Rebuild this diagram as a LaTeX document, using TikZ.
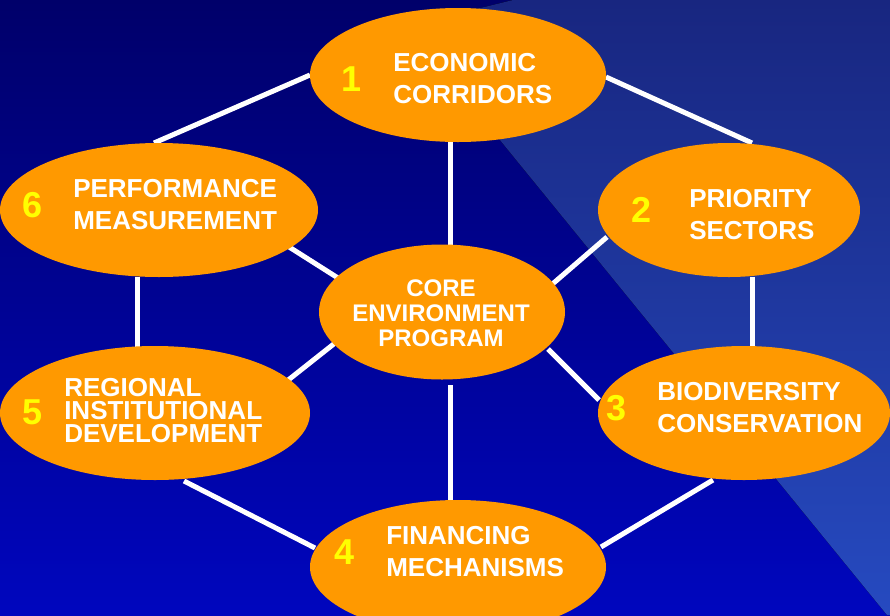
\documentclass[tikz,border=0pt]{standalone}
\usepackage{fontspec}
\setmainfont{Liberation Sans}
\usetikzlibrary{shapes.geometric,calc}
\definecolor{bgtop}{RGB}{0,0,106}
\definecolor{bgbot}{RGB}{0,6,190}
\definecolor{ltop}{RGB}{24,38,128}
\definecolor{lbot}{RGB}{38,74,192}
\definecolor{orng}{RGB}{255,153,0}
\definecolor{ylw}{RGB}{255,255,0}
\pgfdeclarelayer{back}
\pgfdeclarelayer{lines}
\pgfsetlayers{back,lines,main}
\begin{document}
\begin{tikzpicture}[x=0.75pt,y=-0.75pt,
  ell/.style n args={2}{ellipse,fill=orng,inner sep=0pt,outer sep=0pt,minimum width=#1,minimum height=#2},
  link/.style={draw=white,line width=3.75pt},
  num/.style={text=ylw,font=\fontsize{27}{27}\selectfont\bfseries,inner sep=0pt},
  lbl/.style={text=white,font=\fontsize{19.5}{24}\selectfont\bfseries,align=left,inner sep=0pt,anchor=west}]
\useasboundingbox (0,0) rectangle (890,615);
\clip (0,0) rectangle (890,615);
% ellipses
\node[ell={222pt}{100.5pt}] (e1) at (458,75) {};
\node[ell={196.5pt}{100.5pt}] (e2) at (729,210) {};
\node[ell={238.5pt}{100.5pt}] (e6) at (159,210) {};
\node[ell={184.5pt}{101.25pt}] (ec) at (442,312) {};
\node[ell={232.5pt}{100.5pt}] (e5) at (155,413) {};
\node[ell={219pt}{100.5pt}] (e3) at (744,413) {};
\node[ell={222pt}{100.5pt}] (e4) at (458,567) {};
% labels
\node[lbl] (t1) at (393,79) {ECONOMIC\\CORRIDORS};
\node[lbl] (t2) at (689,214.5) {PRIORITY\\SECTORS};
\node[lbl] (t6) at (73,205) {PERFORMANCE\\MEASUREMENT};
\node[lbl] (t3) at (657,408) {BIODIVERSITY\\CONSERVATION};
\node[lbl,font=\fontsize{19.5}{17.25}\selectfont\bfseries] (t5) at (64,411) {REGIONAL\\INSTITUTIONAL\\DEVELOPMENT};
\node[lbl] (t4) at (386,551.5) {FINANCING\\MECHANISMS};
\node[lbl,align=center,anchor=center,font=\fontsize{18}{18.75}\selectfont\bfseries] (tc) at (441,313) {CORE\\ENVIRONMENT\\PROGRAM};
% numbers
\node[num] (n1) at (352,79) {1};
\node[num] (n2) at (642,210) {2};
\node[num] (n3) at (617,408) {3};
\node[num] (n4) at (345,552) {4};
\node[num] (n5) at (33,412) {5};
\node[num] (n6) at (33,205) {6};
% connectors
\begin{pgfonlayer}{lines}
\draw[link] ($(e1)+(-148,0)$) -- ($(e6)+(-5,-67)$);
\draw[link] ($(e1)+(148,2)$) -- ($(e2)+(23,-67)$);
\draw[link] ($(e1)+(-8,67)$) -- ($(ec)+(8,-67)$);
\draw[link] ($(e6)+(127,35)$) -- ($(ec)+(-104,-34)$);
\draw[link] ($(e2)+(-122,27)$) -- ($(ec)+(107,-25)$);
\draw[link] ($(e6)+(-22,67)$) -- ($(e5)+(-18,-66)$);
\draw[link] ($(e2)+(23,67)$) -- ($(e3)+(8,-67)$);
\draw[link] ($(ec)+(-107,31)$) -- ($(e5)+(132,-32)$);
\draw[link] ($(ec)+(106,37)$) -- ($(e3)+(-145,-13)$);
\draw[link] ($(ec)+(8,73)$) -- ($(e4)+(-8,-67)$);
\draw[link] ($(e5)+(29,68)$) -- ($(e4)+(-143,-19)$);
\draw[link] ($(e3)+(-31,67)$) -- ($(e4)+(143,-20)$);
\end{pgfonlayer}
% background
\begin{pgfonlayer}{back}
\fill[top color=bgtop,bottom color=bgbot] (0,0) rectangle (890,615);
\fill[top color=ltop,bottom color=lbot] (513,0) -- (890,0) -- (890,615) -- (887,615) -- (407,26) -- cycle;
\end{pgfonlayer}
\end{tikzpicture}
\end{document}
